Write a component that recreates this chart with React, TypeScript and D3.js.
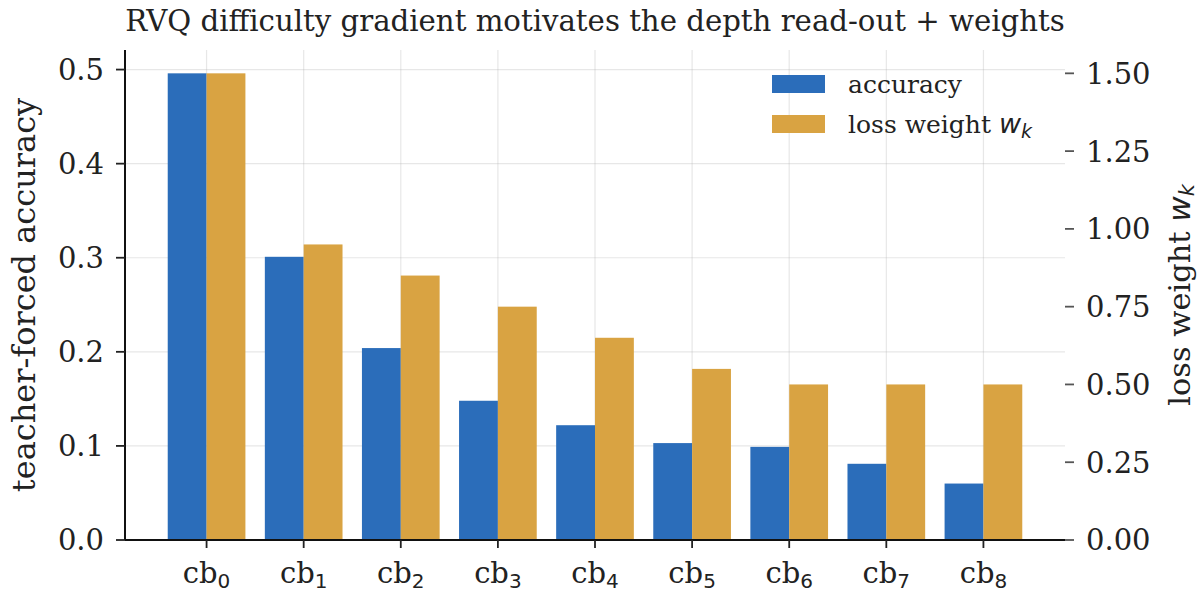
import { useEffect, useRef } from "react";
import * as d3 from "d3";

const codebooks = ["0", "1", "2", "3", "4", "5", "6", "7", "8"];
const accuracy = [0.496, 0.301, 0.204, 0.148, 0.122, 0.103, 0.099, 0.081, 0.06];
const lossWeight = [1.5, 0.95, 0.85, 0.75, 0.65, 0.55, 0.5, 0.5, 0.5];
const leftTicks = [0, 0.1, 0.2, 0.3, 0.4, 0.5];
const rightTicks = [0, 0.25, 0.5, 0.75, 1.0, 1.25, 1.5];

const BLUE = "#2b6dba";
const ORANGE = "#d9a342";
const SERIF = "'DejaVu Serif', serif";
const SANS = "'DejaVu Sans', sans-serif";

export default function App() {
  const ref = useRef<SVGSVGElement>(null);

  useEffect(() => {
    document.body.style.margin = "0";
    if (!ref.current) return;
    const svg = d3.select(ref.current);
    svg.selectAll("*").remove();

    const width = 1201;
    const height = 595;
    const m = { top: 50, right: 136, bottom: 55, left: 125 };
    const iw = width - m.left - m.right;
    const ih = height - m.top - m.bottom;

    const n = codebooks.length;
    const pad = 0.05 * (n - 1 + 0.8);
    const x = d3
      .scaleLinear()
      .domain([-0.4 - pad, n - 1 + 0.4 + pad])
      .range([0, iw]);
    const yL = d3.scaleLinear().domain([0, d3.max(accuracy)! * 1.05]).range([ih, 0]);
    const yR = d3.scaleLinear().domain([0, d3.max(lossWeight)! * 1.05]).range([ih, 0]);
    const bw = 0.4;

    const g = svg.append("g").attr("transform", `translate(${m.left},${m.top})`);

    // grid
    g.selectAll("line.hgrid")
      .data(leftTicks)
      .enter()
      .append("line")
      .attr("x1", 0)
      .attr("x2", iw)
      .attr("y1", (d) => yL(d))
      .attr("y2", (d) => yL(d))
      .attr("stroke", "#b0b0b0")
      .attr("stroke-opacity", 0.3)
      .attr("stroke-width", 1.2);
    g.selectAll("line.vgrid")
      .data(codebooks)
      .enter()
      .append("line")
      .attr("x1", (_, i) => x(i))
      .attr("x2", (_, i) => x(i))
      .attr("y1", 0)
      .attr("y2", ih)
      .attr("stroke", "#b0b0b0")
      .attr("stroke-opacity", 0.3)
      .attr("stroke-width", 1.2);

    // bars
    g.selectAll("rect.acc")
      .data(accuracy)
      .enter()
      .append("rect")
      .attr("x", (_, i) => x(i - bw))
      .attr("width", x(bw) - x(0))
      .attr("y", (d) => yL(d))
      .attr("height", (d) => ih - yL(d))
      .attr("fill", BLUE);
    g.selectAll("rect.lw")
      .data(lossWeight)
      .enter()
      .append("rect")
      .attr("x", (_, i) => x(i))
      .attr("width", x(bw) - x(0))
      .attr("y", (d) => yR(d))
      .attr("height", (d) => ih - yR(d))
      .attr("fill", ORANGE);

    // spines
    g.append("line")
      .attr("x1", 0)
      .attr("x2", 0)
      .attr("y1", 0)
      .attr("y2", ih)
      .attr("stroke", "#111")
      .attr("stroke-width", 2);
    g.append("line")
      .attr("x1", 0)
      .attr("x2", iw)
      .attr("y1", ih)
      .attr("y2", ih)
      .attr("stroke", "#111")
      .attr("stroke-width", 2);

    // left ticks
    const lt = g.selectAll("g.lt").data(leftTicks).enter().append("g")
      .attr("transform", (d) => `translate(0,${yL(d)})`);
    lt.append("line").attr("x1", -9).attr("x2", 0).attr("stroke", "#222").attr("stroke-width", 1.8);
    lt.append("text")
      .attr("x", -21)
      .attr("dy", "0.36em")
      .attr("text-anchor", "end")
      .attr("font-family", SERIF)
      .attr("font-size", 29)
      .attr("fill", "#222")
      .text((d) => d3.format(".1f")(d));

    // right ticks
    const rt = g.selectAll("g.rt").data(rightTicks).enter().append("g")
      .attr("transform", (d) => `translate(${iw},${yR(d)})`);
    rt.append("line").attr("x1", 0).attr("x2", 9).attr("stroke", "#555").attr("stroke-width", 1.8);
    rt.append("text")
      .attr("x", 21)
      .attr("dy", "0.36em")
      .attr("text-anchor", "start")
      .attr("font-family", SERIF)
      .attr("font-size", 29)
      .attr("fill", "#222")
      .text((d) => d3.format(".2f")(d));

    // x ticks
    const xt = g.selectAll("g.xt").data(codebooks).enter().append("g")
      .attr("transform", (_, i) => `translate(${x(i)},${ih})`);
    xt.append("line").attr("y1", 0).attr("y2", 8).attr("stroke", "#222").attr("stroke-width", 1.8);
    const xl = xt.append("text")
      .attr("y", 43)
      .attr("text-anchor", "middle")
      .attr("font-family", SERIF)
      .attr("font-size", 29)
      .attr("fill", "#222");
    xl.append("tspan").text("cb");
    xl.append("tspan")
      .attr("font-family", SANS)
      .attr("font-size", 20)
      .attr("dy", 5)
      .text((d) => d);

    // axis labels
    svg.append("text")
      .attr("transform", `translate(35,${m.top + ih / 2}) rotate(-90)`)
      .attr("text-anchor", "middle")
      .attr("font-family", SERIF)
      .attr("font-size", 32)
      .attr("fill", "#222")
      .text("teacher-forced accuracy");
    const rl = svg.append("text")
      .attr("transform", `translate(1190,${m.top + ih / 2}) rotate(-90)`)
      .attr("text-anchor", "middle")
      .attr("font-family", SERIF)
      .attr("font-size", 30.5)
      .attr("fill", "#222");
    rl.append("tspan").text("loss weight ");
    rl.append("tspan").attr("font-family", SANS).attr("font-style", "italic").attr("font-size", 31).text("w");
    rl.append("tspan").attr("font-family", SANS).attr("font-style", "italic").attr("font-size", 21).attr("dy", 4).text("k");

    // title
    svg.append("text")
      .attr("x", m.left + iw / 2)
      .attr("y", 31)
      .attr("text-anchor", "middle")
      .attr("font-family", SERIF)
      .attr("font-size", 29.2)
      .attr("fill", "#222")
      .text("RVQ difficulty gradient motivates the depth read-out + weights");

    // legend
    const leg = g.append("g").attr("transform", `translate(${772 - m.left},${75 - m.top})`);
    const items = [
      { color: BLUE, label: "accuracy", math: false },
      { color: ORANGE, label: "loss weight ", math: true },
    ];
    items.forEach((it, i) => {
      const row = leg.append("g").attr("transform", `translate(0,${i * 40})`);
      row.append("rect").attr("width", 53).attr("height", 18).attr("fill", it.color);
      const t = row.append("text")
        .attr("x", 76)
        .attr("y", 9)
        .attr("dy", "0.36em")
        .attr("font-family", SERIF)
        .attr("font-size", 25)
        .attr("fill", "#222");
      t.append("tspan").text(it.label);
      if (it.math) {
        t.append("tspan").attr("font-family", SANS).attr("font-style", "italic").attr("font-size", 27).text("w");
        t.append("tspan").attr("font-family", SANS).attr("font-style", "italic").attr("font-size", 19).attr("dy", 5).text("k");
      }
    });
  }, []);

  return <svg ref={ref} width={1201} height={595} style={{ display: "block", background: "#fff" }} />;
}
